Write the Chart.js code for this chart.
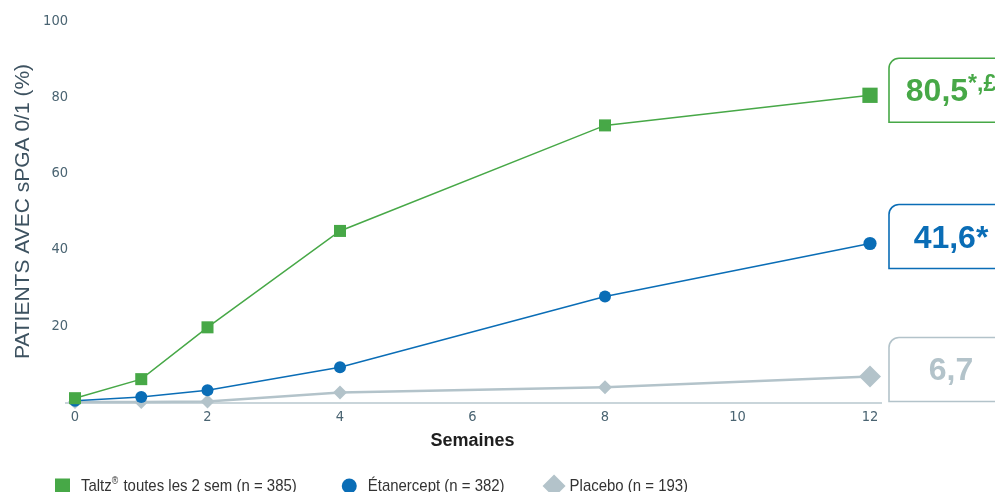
<!DOCTYPE html>
<html lang="fr">
<head>
<meta charset="utf-8">
<title>sPGA 0/1</title>
<script src="https://cdn.jsdelivr.net/npm/chart.js@4"></script>
<style>
  html, body { margin: 0; padding: 0; background: #fff; overflow: hidden; }
  #wrap { width: 995px; height: 492px; }
</style>
</head>
<body>
<div id="wrap"><canvas id="chart" width="995" height="492"></canvas></div>
<script>
// values
const weeks = [0, 1, 2, 4, 8, 12];
const taltz = [1.0, 6.0, 19.6, 44.9, 72.6, 80.5];
const etanercept = [0.3, 1.3, 3.1, 9.1, 27.7, 41.6];
const placebo = [0, 0, 0.1, 2.5, 3.9, 6.7];

const seriesNames = ["Taltz® toutes les 2 sem (n = 385)", "Étanercept (n = 382)", "Placebo (n = 193)"];
const endLabels = ["80,5", "41,6*", "6,7"];
const endSupers = ["*,£", "", ""];
const xTicks = [0, 2, 4, 6, 8, 10, 12];
const yTicks = [20, 40, 60, 80, 100];

const GREEN = "#47a847";
const BLUE = "#0a6db6";
const GREY = "#b3c3ca";
const NARROW = '"Liberation Sans Narrow", "Arial Narrow", "DejaVu Sans Condensed", sans-serif';
const SANS = '"Liberation Sans", Arial, sans-serif';
const SQUEEZE = 0.88; // no narrow face installed: squeeze legend text by hand

(function () {
  const pts = (ys) => weeks.map((w, i) => ({ x: w, y: ys[i] }));
  const lastBig = (small, big) => (ctx) => (ctx.dataIndex === weeks.length - 1 ? big : small);

  function narrowText(ctx, text, x, y, size) {
    ctx.font = size + "px " + SANS;
    ctx.save();
    ctx.translate(x, y);
    ctx.scale(SQUEEZE, 1);
    ctx.fillText(text, 0, 0);
    ctx.restore();
    return ctx.measureText(text).width * SQUEEZE;
  }

  // axis baseline a bit wider than the plot, under the markers
  const baseline = {
    id: "baseline",
    beforeDatasetsDraw(chart) {
      const { ctx, chartArea, scales } = chart;
      const y = scales.y.getPixelForValue(0) + 1;
      ctx.save();
      ctx.strokeStyle = "#c9d5da";
      ctx.lineWidth = 2;
      ctx.beginPath();
      ctx.moveTo(chartArea.left - 10, y);
      ctx.lineTo(chartArea.right + 12, y);
      ctx.stroke();
      ctx.restore();
    },
  };

  // framed value boxes at the end of each line
  const endBoxes = {
    id: "endBoxes",
    afterDatasetsDraw(chart) {
      const { ctx } = chart;
      chart.data.datasets.forEach((ds, i) => {
        const meta = chart.getDatasetMeta(i);
        const p = meta.data[meta.data.length - 1];
        const x0 = p.x + 19;
        const cy = p.y - (i === 0 ? 5 : 7);
        ctx.save();
        ctx.strokeStyle = ds.borderColor;
        ctx.lineWidth = 1.6;
        ctx.fillStyle = "#fff";
        ctx.beginPath();
        ctx.roundRect(x0, cy - 32, 150, 64, [10, 0, 0, 0]);
        ctx.fill();
        ctx.stroke();

        const main = endLabels[i];
        const sup = endSupers[i];
        ctx.font = "bold 32px " + SANS;
        const wMain = ctx.measureText(main).width;
        ctx.font = "bold 23px " + SANS;
        const wSup = sup ? ctx.measureText(sup).width : 0;
        const tx = x0 + 62 - (wMain + wSup) / 2;
        ctx.fillStyle = ds.borderColor;
        ctx.textBaseline = "alphabetic";
        ctx.font = "bold 32px " + SANS;
        ctx.fillText(main, tx, cy + 11);
        if (sup) {
          ctx.font = "bold 23px " + SANS;
          ctx.fillText(sup, tx + wMain, cy + 1);
        }
        ctx.restore();
      });
    },
  };

  // legend row, partly cut by the bottom edge as in the source
  const legendRow = {
    id: "legendRow",
    afterDraw(chart) {
      const { ctx } = chart;
      const y = 486;
      let x = 55;
      ctx.save();
      ctx.textBaseline = "middle";
      chart.data.datasets.forEach((ds, i) => {
        ctx.fillStyle = ds.borderColor;
        let mw = 15;
        if (ds.pointStyle === "rect") {
          ctx.fillRect(x, y - 7.5, 15, 15);
        } else if (ds.pointStyle === "circle") {
          ctx.beginPath();
          ctx.arc(x + 7.5, y, 7.5, 0, Math.PI * 2);
          ctx.fill();
        } else {
          mw = 23;
          ctx.beginPath();
          ctx.moveTo(x, y);
          ctx.lineTo(x + 11.5, y - 11.5);
          ctx.lineTo(x + 23, y);
          ctx.lineTo(x + 11.5, y + 11.5);
          ctx.closePath();
          ctx.fill();
        }
        x += mw + (i === 2 ? 4 : 11);
        ctx.fillStyle = "#333";
        const name = seriesNames[i];
        const r = name.indexOf("®");
        if (r >= 0) {
          x += narrowText(ctx, name.slice(0, r), x, y, 17);
          x += narrowText(ctx, "®", x, y - 5, 10) + 1;
          x += narrowText(ctx, name.slice(r + 1), x, y, 17);
        } else {
          x += narrowText(ctx, name, x, y, 17);
        }
        x += i === 0 ? 45 : 38;
      });
      ctx.restore();
    },
  };

  new Chart(document.getElementById("chart"), {
    type: "line",
    data: {
      datasets: [
        {
          label: seriesNames[0],
          data: pts(taltz),
          borderColor: GREEN,
          backgroundColor: GREEN,
          borderWidth: 1.5,
          pointStyle: "rect",
          pointRadius: lastBig(8.5, 10.8),
          pointBorderWidth: 0,
          clip: false,
        },
        {
          label: seriesNames[1],
          data: pts(etanercept),
          borderColor: BLUE,
          backgroundColor: BLUE,
          borderWidth: 1.5,
          pointStyle: "circle",
          pointRadius: lastBig(6, 6.6),
          pointBorderWidth: 0,
          clip: false,
        },
        {
          label: seriesNames[2],
          data: pts(placebo),
          borderColor: GREY,
          backgroundColor: GREY,
          borderWidth: 2.5,
          pointStyle: "rectRot",
          pointRadius: lastBig(7, 11),
          pointBorderWidth: 0,
          clip: false,
        },
      ],
    },
    options: {
      responsive: false,
      animation: false,
      events: [],
      layout: { padding: { top: 21, right: 125, left: 0, bottom: 0 } },
      plugins: { legend: { display: false }, tooltip: { enabled: false } },
      scales: {
        x: {
          type: "linear",
          min: 0,
          max: 12,
          grid: { display: false, drawTicks: false },
          border: { display: false },
          afterFit: (s) => { s.height = 90; },
          afterBuildTicks: (s) => { s.ticks = xTicks.map((v) => ({ value: v })); },
          ticks: { color: "#4a6472", padding: 7, font: { family: NARROW, size: 14.5 } },
          title: {
            display: true,
            text: "Semaines",
            color: "#1e1e1e",
            font: { family: SANS, size: 18, weight: "bold" },
            padding: { top: 0, bottom: 40 },
          },
        },
        y: {
          min: 0,
          max: 100,
          grid: { display: false, drawTicks: false },
          border: { display: false },
          afterFit: (s) => { s.width = 75; },
          afterBuildTicks: (s) => { s.ticks = yTicks.map((v) => ({ value: v })); },
          ticks: { color: "#4a6472", padding: 7, font: { family: NARROW, size: 14.5 } },
          title: {
            display: true,
            text: "PATIENTS AVEC sPGA 0/1 (%)",
            color: "#3d5260",
            font: { family: SANS, size: 21 },
            padding: { top: 11, bottom: 0 },
          },
        },
      },
    },
    plugins: [baseline, endBoxes, legendRow],
  });
})();
</script>
</body>
</html>
